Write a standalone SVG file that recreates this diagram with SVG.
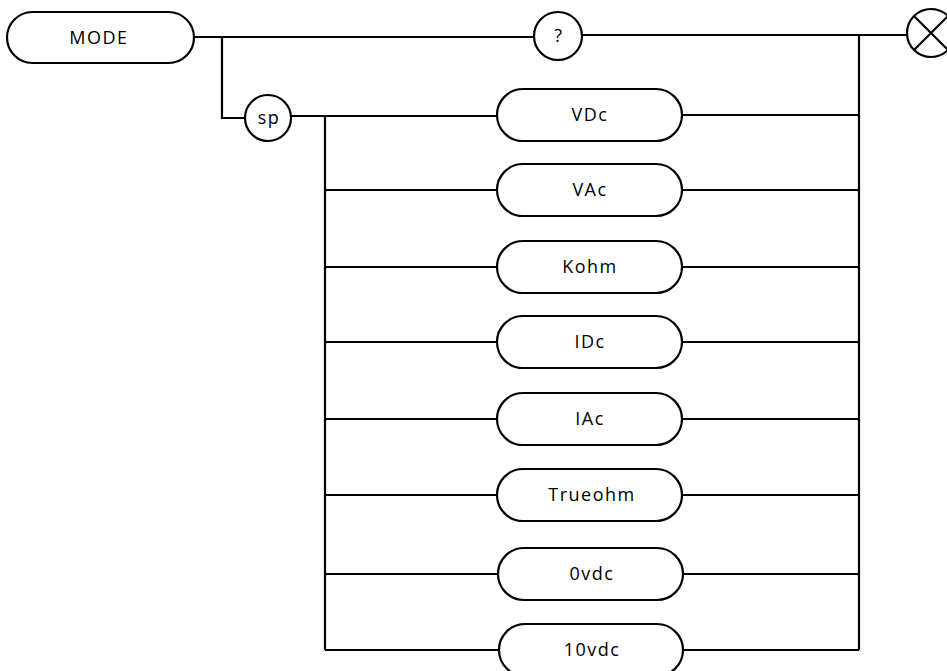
<svg xmlns="http://www.w3.org/2000/svg" width="947" height="671" viewBox="0 0 947 671">
<style>
.s{fill:none;stroke:#000;stroke-width:2.2}
.n{fill:#fff;stroke:#000;stroke-width:2.2}
.t{font-family:"Open Sans","Liberation Sans",sans-serif;font-size:18px;letter-spacing:1.5px;fill:#000;text-anchor:middle}
</style>
<rect width="947" height="671" fill="#fff"/>
<g id="connectors" class="s">
<path d="M194 37 H534"/>
<path d="M582 35 H907"/>
<path d="M222 37 V118 H245"/>
<path d="M291 116 H497"/>
<path d="M325 116 V650"/>
<path d="M859 34 V650"/>
<path d="M325 190 H497 M682 190 H859"/>
<path d="M325 267 H497 M682 267 H859"/>
<path d="M325 342 H497 M682 342 H859"/>
<path d="M325 419 H497 M682 419 H859"/>
<path d="M325 495 H497 M682 495 H859"/>
<path d="M325 574 H497 M682 574 H859"/>
<path d="M325 650 H499 M683 650 H859"/>
<path d="M682 115 H859"/>
</g>
<g id="mode"><rect class="n" x="7" y="12" width="187" height="51" rx="25.5"/><text class="t" x="99" y="44">MODE</text></g>
<g id="query"><circle class="n" cx="558" cy="36" r="24"/><text class="t" x="559" y="42">?</text></g>
<g id="end"><circle class="n" cx="931" cy="33" r="24"/><path class="s" d="M914 16 L948 50 M914 50 L948 16"/></g>
<g id="sp"><circle class="n" cx="268" cy="118" r="23"/><text class="t" x="269" y="124">sp</text></g>
<g id="vdc"><rect class="n" x="497" y="89" width="185" height="52" rx="26"/><text class="t" x="590" y="121">VDc</text></g>
<g id="vac"><rect class="n" x="497" y="164" width="185" height="52" rx="26"/><text class="t" x="590" y="196">VAc</text></g>
<g id="kohm"><rect class="n" x="497" y="241" width="185" height="52" rx="26"/><text class="t" x="590" y="273">Kohm</text></g>
<g id="idc"><rect class="n" x="497" y="316" width="185" height="52" rx="26"/><text class="t" x="590" y="348">IDc</text></g>
<g id="iac"><rect class="n" x="497" y="393" width="185" height="52" rx="26"/><text class="t" x="590" y="425">IAc</text></g>
<g id="trueohm"><rect class="n" x="497" y="469" width="185" height="52" rx="26"/><text class="t" x="592" y="501">Trueohm</text></g>
<g id="zerovdc"><rect class="n" x="498" y="548" width="185" height="52" rx="26"/><text class="t" x="592" y="580">0vdc</text></g>
<g id="tenvdc"><rect class="n" x="499" y="624" width="184" height="52" rx="26"/><text class="t" x="592" y="656">10vdc</text></g>
</svg>
